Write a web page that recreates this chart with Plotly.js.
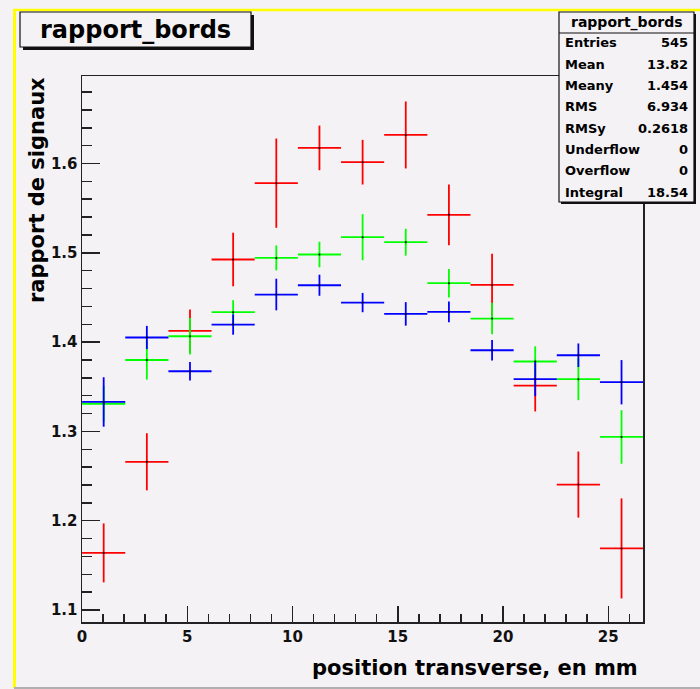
<!DOCTYPE html>
<html>
<head>
<meta charset="utf-8">
<script src="https://cdn.plot.ly/plotly-3.0.1.min.js"></script>
<style>
  html, body { margin: 0; padding: 0; background: #f5f2f5; }
  #chart { width: 700px; height: 689px; }
</style>
</head>
<body>
<div id="chart"></div>
<script>
// Bin centres (mm) and half bin width
const binCenters = [1.03, 3.08, 5.13, 7.18, 9.23, 11.28, 13.33, 15.38, 17.43, 19.48, 21.53, 23.58, 25.63];
const binHalfWidth = 1.025;

// Signal ratio per bin, three series, with their errors
const redValues   = [1.164, 1.266, 1.4125, 1.4925, 1.578, 1.6175, 1.6015, 1.632, 1.5425, 1.464, 1.3514, 1.2405, 1.169];
const redErrors   = [0.033, 0.032, 0.024, 0.030, 0.050, 0.025, 0.025, 0.0375, 0.034, 0.035, 0.029, 0.037, 0.056];
const greenValues = [1.331, 1.380, 1.4066, 1.4335, 1.4943, 1.4981, 1.5175, 1.5119, 1.466, 1.4264, 1.3783, 1.3585, 1.2938];
const greenErrors = [0.020, 0.022, 0.0205, 0.0135, 0.014, 0.0143, 0.0258, 0.015, 0.016, 0.0177, 0.017, 0.0235, 0.030];
const blueValues  = [1.333, 1.4052, 1.3674, 1.4197, 1.4533, 1.4637, 1.4443, 1.4316, 1.4338, 1.3909, 1.3585, 1.3853, 1.3551];
const blueErrors  = [0.0277, 0.013, 0.0104, 0.0114, 0.0177, 0.0118, 0.0108, 0.0132, 0.0116, 0.0116, 0.019, 0.0132, 0.0248];

// Statistics box contents
const histName = "rapport_bords";
const statNames  = ["Entries", "Mean", "Meany", "RMS", "RMSy", "Underflow", "Overflow", "Integral"];
const statValues = ["545", "13.82", "1.454", "6.934", "0.2618", "0", "0", "18.54"];

const xTitle = "position transverse, en mm";
const yTitle = "rapport de signaux";

// ---- layout geometry (pixels) ----
const W = 700, H = 689;
const M = { l: 82, r: 57, t: 76, b: 67 };
const plotW = W - M.l - M.r, plotH = H - M.t - M.b;
const fx = px => (px - M.l) / plotW;          // pixel x -> paper x
const fy = py => (H - M.b - py) / plotH;      // pixel y -> paper y

const BG = "#f5f2f5";
const FONT = "DejaVu Sans";

function series(values, errors, color) {
  return {
    type: "scatter",
    mode: "markers",
    x: binCenters,
    y: values,
    marker: { size: 2, color: "#000" },
    error_y: { type: "data", array: errors, visible: true, color: color, thickness: 1.8, width: 0 },
    error_x: { type: "constant", value: binHalfWidth, visible: true, color: color, thickness: 1.8, width: 0 },
    showlegend: false,
    hoverinfo: "x+y"
  };
}

const data = [
  series(redValues, redErrors, "#ff0000"),
  series(greenValues, greenErrors, "#00ff00"),
  series(blueValues, blueErrors, "#0000ff")
];

function rect(x0, y0, x1, y1, opts) {
  return Object.assign({ type: "rect", xref: "paper", yref: "paper",
    x0: fx(x0), x1: fx(x1), y0: fy(y1), y1: fy(y0), layer: "above" }, opts);
}
function line(x0, y0, x1, y1, color, width) {
  return { type: "line", xref: "paper", yref: "paper",
    x0: fx(x0), x1: fx(x1), y0: fy(y0), y1: fy(y1), layer: "above",
    line: { color: color, width: width } };
}

const shapes = [
  // canvas borders
  line(14.5, 9, 14.5, 688, "#ffff00", 3),
  line(13, 10, 700, 10, "#ffff00", 2.5),
  line(14, 688, 700, 688, "#b0b0b0", 2),
  // title box with shadow
  rect(23, 15, 254, 50, { fillcolor: "#111", line: { width: 0 } }),
  rect(20, 12, 251, 47, { fillcolor: BG, line: { color: "#111", width: 1.2 } }),
  // statistics box with shadow
  rect(561, 14, 696, 204, { fillcolor: "#111", line: { width: 0 } }),
  rect(559, 12, 694, 202, { fillcolor: BG, line: { color: "#111", width: 1.2 } }),
  line(559, 33, 694, 33, "#111", 1.2)
];

const annotations = [
  { xref: "paper", yref: "paper", x: fx(135.5), y: fy(29.5), xanchor: "center", yanchor: "middle",
    text: histName, showarrow: false, font: { family: FONT, size: 24, weight: "bold", color: "#000" } },
  { xref: "paper", yref: "paper", x: fx(626.5), y: fy(22.5), xanchor: "center", yanchor: "middle",
    text: histName, showarrow: false, font: { family: FONT, size: 14, weight: "bold", color: "#000" } },
  { xref: "paper", yref: "paper", x: fx(640), y: fy(668), xanchor: "right", yanchor: "middle",
    text: xTitle, showarrow: false, font: { family: FONT, size: 21, weight: "bold", color: "#000" } },
  { xref: "paper", yref: "paper", x: fx(37), y: fy(190), xanchor: "center", yanchor: "middle",
    text: yTitle, textangle: -90, showarrow: false, font: { family: FONT, size: 21, weight: "bold", color: "#000" } }
];

statNames.forEach((name, i) => {
  const yc = 43 + i * 21.3;
  annotations.push({ xref: "paper", yref: "paper", x: fx(563), y: fy(yc), xanchor: "left", yanchor: "middle",
    text: name, showarrow: false, font: { family: FONT, size: 13, weight: "bold", color: "#000" } });
  annotations.push({ xref: "paper", yref: "paper", x: fx(690), y: fy(yc), xanchor: "right", yanchor: "middle",
    text: statValues[i], showarrow: false, font: { family: FONT, size: 13, weight: "bold", color: "#000" } });
});

const axisCommon = {
  showgrid: false, zeroline: false,
  showline: true, linecolor: "#222", linewidth: 1.5, mirror: true,
  ticks: "inside", tickcolor: "#222", tickwidth: 1.5,
  tickfont: { family: FONT, size: 15, weight: "bold", color: "#111" }
};

const layout = {
  width: W, height: H,
  margin: M,
  paper_bgcolor: BG, plot_bgcolor: BG,
  xaxis: Object.assign({}, axisCommon, {
    range: [0, 26.65], dtick: 5, tick0: 0, ticklen: 16,
    minor: { ticks: "inside", dtick: 1, ticklen: 8, tickcolor: "#222", tickwidth: 1.5 }
  }),
  yaxis: Object.assign({}, axisCommon, {
    range: [1.0866, 1.698], dtick: 0.1, tick0: 1.1, ticklen: 18, tickformat: ".1f",
    minor: { ticks: "inside", dtick: 0.02, ticklen: 10, tickcolor: "#222", tickwidth: 1.5 }
  }),
  shapes: shapes,
  annotations: annotations
};

Plotly.newPlot("chart", data, layout, { displayModeBar: false, staticPlot: true });
</script>
</body>
</html>
